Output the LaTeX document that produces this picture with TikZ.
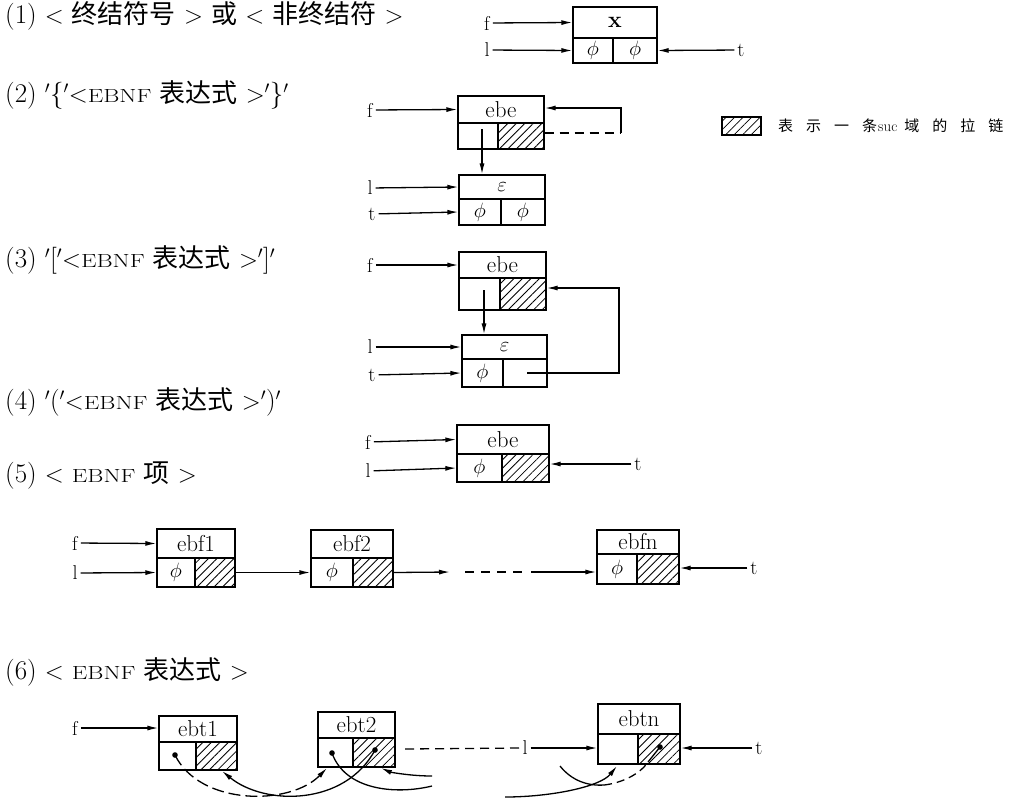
\documentclass[tikz,border=0pt]{standalone}
\usepackage{fontspec}
\usepackage{graphicx}
\newfontfamily\cjk{Noto Sans CJK SC}
\usetikzlibrary{arrows.meta,patterns.meta,fit,calc}
\newcommand\zh[1]{{\cjk\fontsize{26}{26}\selectfont #1}}
\newcommand\ebnf{\scalebox{1.3}[1]{\fontsize{19}{19}\selectfont EBNF}}
\newcommand\qt{\ensuremath{'}}
\newcommand\lgap{\hspace{13pt}}
\begin{document}
\begin{tikzpicture}[x=1pt,y=-1pt,
  cellbox/.style={draw, inner sep=0pt, line width=1.3pt},
  hatch/.style={cellbox, pattern={Lines[angle=45,distance=6pt,line width=0.8pt]}},
  lab/.style={font=\fontsize{23}{23}\selectfont},
  phi/.style={font=\fontsize{20}{20}\selectfont},
  ptr/.style={font=\fontsize{20}{20}\selectfont, inner sep=3pt},
  title/.style={font=\fontsize{27}{27}\selectfont, anchor=west, inner sep=0pt},
  arr/.style={-{Latex[length=11pt,width=5pt]}, line width=1.3pt},
  con/.style={line width=1.3pt},
  dsh/.style={line width=1.3pt, dash pattern=on 9pt off 6pt}]
\useasboundingbox (0,0) rectangle (1019,801);

% ---------- titles
\node[title] (h1) at (5,16) {(1) $<$ \zh{终结符号} $>$ \zh{或} $<$ \zh{非终结符} $>$};
\node[title] (h2) at (5,95) {(2) \qt\{\qt$<$\ebnf{} \zh{表达式} $>$\qt\}\qt};
\node[title] (h3) at (5,260) {(3) \qt[\qt$<$\ebnf{} \zh{表达式} $>$\qt]\qt};
\node[title] (h4) at (5,402) {(4) \qt(\qt$<$\ebnf{} \zh{表达式} $>$\qt)\qt};
\node[title] (h5) at (5,476) {(5) $<$ \ebnf{} \zh{项} $>$};
\node[title] (h6) at (5,672) {(6) $<$ \ebnf{} \zh{表达式} $>$};

% ---------- legend
\node[hatch, fit={(722,117)(761,135)}] (leg) {};
\node[anchor=west, inner sep=0pt, font=\fontsize{15}{15}\selectfont] (legt) at (778,126)
  {{\cjk 表\lgap 示\lgap 一\lgap 条}\hspace{1pt}suc\hspace{7pt}{\cjk 域\lgap 的\lgap 拉\lgap 链}};

% ---------- (1)
\node[cellbox, fit={(573,7)(657,38)}, label={[lab]center:\textbf{x}}] (b1t) {};
\node[cellbox, fit={(573,38)(613,63)}, label={[phi]center:$\phi$}] (b1l) {};
\node[cellbox, fit={(613,38)(657,63)}, label={[phi]center:$\phi$}] (b1r) {};
\node[ptr] (f1) at (487,23) {f};
\node[ptr] (l1) at (487,50) {l};
\node[ptr] (t1) at (741,50) {t};
\draw[arr] (f1) -- (b1t.west);
\draw[arr] (l1) -- (b1l.west);
\draw[arr] (t1) -- (b1r.east);

% ---------- (2)
\node[cellbox, fit={(458,96)(544,123)}, label={[lab]center:ebe}] (b2t) {};
\node[cellbox, fit={(458,123)(498,149)}] (b2l) {};
\node[hatch, fit={(498,123)(544,149)}] (b2r) {};
\node[cellbox, fit={(459,175)(545,199)}, label={[phi]center:$\varepsilon$}] (e2t) {};
\node[cellbox, fit={(459,199)(501,225)}, label={[phi]center:$\phi$}] (e2l) {};
\node[cellbox, fit={(501,199)(545,225)}, label={[phi]center:$\phi$}] (e2r) {};
\node[ptr] (f2) at (370,110) {f};
\node[ptr] (l2) at (370,188) {l};
\node[ptr] (t2) at (372,214) {t};
\draw[arr] (f2) -- (b2t.west);
\draw[arr] (l2) -- (e2t.west);
\draw[arr] (t2) -- (e2l.west);
\coordinate (p2) at (482,129);
\draw[arr] (p2) -- (p2 |- e2t.north);
\coordinate (c2a) at (621,133);
\coordinate (c2b) at (621,108);
\draw[dsh] (b2r.east |- c2a) -- (c2a);
\draw[arr] (c2a) -- (c2b) -- (b2t.east |- c2b);

% ---------- (3)
\node[cellbox, fit={(459,252)(546,278)}, label={[lab]center:ebe}] (b3t) {};
\node[cellbox, fit={(459,278)(500,310)}] (b3l) {};
\node[hatch, fit={(500,278)(546,310)}] (b3r) {};
\node[cellbox, fit={(462,335)(547,359)}, label={[phi]center:$\varepsilon$}] (e3t) {};
\node[cellbox, fit={(462,359)(503,387)}, label={[phi]center:$\phi$}] (e3l) {};
\node[cellbox, fit={(503,359)(547,387)}] (e3r) {};
\node[ptr] (f3) at (370,265) {f};
\node[ptr] (l3) at (370,347) {l};
\node[ptr] (t3) at (372,375) {t};
\draw[arr] (f3) -- (b3t.west);
\draw[arr] (l3) -- (e3t.west);
\draw[arr] (t3) -- (e3l.west);
\coordinate (p3) at (484,290);
\draw[arr] (p3) -- (p3 |- e3t.north);
\coordinate (q3) at (527,373);
\coordinate (c3a) at (619,373);
\coordinate (c3b) at (619,288);
\draw[arr] (q3) -- (c3a) -- (c3b) -- (b3r.east |- c3b);

% ---------- (4)
\node[cellbox, fit={(457,425)(549,454)}, label={[lab]center:ebe}] (b4t) {};
\node[cellbox, fit={(457,454)(502,482)}, label={[phi]center:$\phi$}] (b4l) {};
\node[hatch, fit={(502,454)(549,482)}] (b4r) {};
\node[ptr] (f4) at (368,442) {f};
\node[ptr] (l4) at (368,471) {l};
\node[ptr] (t4) at (638,464) {t};
\draw[arr] (f4) -- (b4t.west);
\draw[arr] (l4) -- (b4l.west);
\draw[arr] (t4) -- (b4r.east |- t4);

% ---------- (5)
\node[cellbox, fit={(157,529)(235,558)}, label={[lab]center:ebf1}] (g1t) {};
\node[cellbox, fit={(157,558)(195,587)}, label={[phi]center:$\phi$}] (g1l) {};
\node[hatch, fit={(195,558)(235,587)}] (g1r) {};
\node[cellbox, fit={(311,530)(393,558)}, label={[lab]center:ebf2}] (g2t) {};
\node[cellbox, fit={(311,558)(353,587)}, label={[phi]center:$\phi$}] (g2l) {};
\node[hatch, fit={(353,558)(393,587)}] (g2r) {};
\node[cellbox, fit={(597,530)(679,554)}, label={[lab]center:ebfn}] (gnt) {};
\node[cellbox, fit={(597,554)(637,584)}, label={[phi]center:$\phi$}] (gnl) {};
\node[hatch, fit={(637,554)(679,584)}] (gnr) {};
\node[ptr] (f5) at (75,543) {f};
\node[ptr] (l5) at (75,573) {l};
\node[ptr] (t5) at (754,568) {t};
\draw[arr] (f5) -- (g1t.west);
\draw[arr] (l5) -- (g1l.west);
\draw[arr] (g1r.east) -- (g2l.west);
\coordinate (c5a) at (450,572);
\coordinate (c5b) at (531,572);
\coordinate (c5c) at (465,572);
\coordinate (c5d) at (524,572);
\draw[arr] (g2r.east) -- (c5a);
\draw[line width=1.3pt, dash pattern=on 9pt off 7pt] (c5c) -- (c5d);
\draw[arr] (c5b) -- (gnl.west |- c5b);
\draw[arr] (t5) -- (gnr.east |- t5);

% ---------- (6)
\node[cellbox, fit={(159,716)(237,742)}, label={[lab]center:ebt1}] (k1t) {};
\node[cellbox, fit={(159,742)(196,770)}] (k1l) {};
\node[hatch, fit={(196,742)(237,770)}] (k1r) {};
\node[cellbox, fit={(318,712)(395,738)}, label={[lab]center:ebt2}] (k2t) {};
\node[cellbox, fit={(318,738)(353,767)}] (k2l) {};
\node[hatch, fit={(353,738)(395,767)}] (k2r) {};
\node[cellbox, fit={(598,704)(680,734)}, label={[lab]center:ebtn}] (knt) {};
\node[cellbox, fit={(598,734)(638,764)}] (knl) {};
\node[hatch, fit={(638,734)(680,764)}] (knr) {};
\node[ptr] (f6) at (75,728) {f};
\node[ptr] (l6) at (525,748) {l};
\node[ptr] (t6) at (759,748) {t};
\draw[arr] (f6) -- (k1t.west |- f6);
\coordinate (c6a) at (405,749);
\draw[dsh] (c6a) -- (l6.west);
\draw[arr] (l6) -- (knl.west |- l6);
\draw[arr] (t6) -- (knr.east |- t6);
% chain dots
\coordinate (d1) at (175,755);
\coordinate (d2a) at (332,753);
\coordinate (d2b) at (375,750);
\coordinate (dn) at (660,747);
\foreach \d in {d1,d2a,d2b,dn} \fill (\d) circle[radius=2.8pt];
% chain curves
\coordinate (u1) at (327,768);
\coordinate (u2) at (222,771);
\coordinate (u3) at (432,786);
\coordinate (u4) at (432,776);
\coordinate (u5) at (381,768);
\coordinate (u6) at (560,766);
\coordinate (u7) at (505,797);
\coordinate (u8) at (617,766);
\coordinate (v1) at (604,785);
\coordinate (v2) at (648,762);
\draw[arr, dash pattern=on 12pt off 5pt] (d1) .. controls (200,806) and (290,806) .. (u1);
\draw[arr] (d2b) .. controls (345,806) and (265,806) .. (u2);
\draw[con] (d2a) .. controls (345,790) and (395,795) .. (u3);
\draw[arr] (u4) .. controls (410,776) and (390,772) .. (u5);
\draw[con] (u6) .. controls (572,781) and (588,786) .. (v1);
\draw[line width=1.3pt, dash pattern=on 8pt off 5pt] (v1) .. controls (622,783) and (640,774) .. (v2);
\draw[con] (v2) -- (dn);
\draw[arr] (u7) .. controls (550,797) and (600,787) .. (u8);
\end{tikzpicture}
\end{document}
